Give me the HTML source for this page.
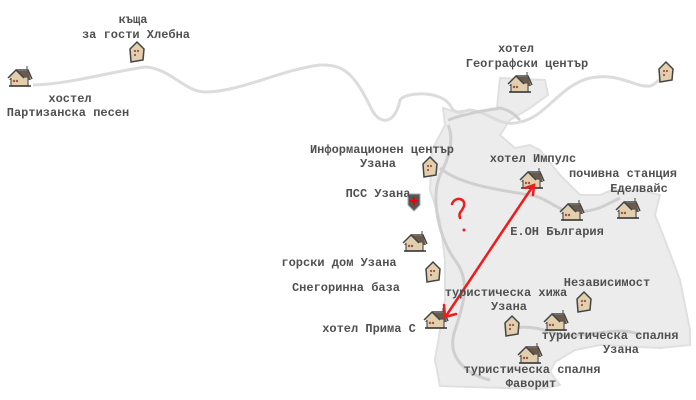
<!DOCTYPE html>
<html><head><meta charset="utf-8"><style>
html,body{margin:0;padding:0;background:#fff;}
svg{display:block}
text{font-family:"Liberation Mono",monospace;font-size:12px;font-weight:bold;fill:#505050;text-anchor:middle;}
</style></head><body>
<svg width="696" height="400" viewBox="0 0 696 400" xmlns="http://www.w3.org/2000/svg">
<defs>
<g id="h">
<path d="M-11,2 L-4,-7 L8,-7 L11,2 Z" fill="#6b5a4a"/>
<rect x="-9" y="-1" width="17" height="9" fill="#e2cfae" stroke="#555" stroke-width="1.2"/>
<path d="M-12,0 L-4,-8 L4,0" fill="#e2cfae" stroke="#444" stroke-width="1.5"/>
<path d="M-4,-8 L8,-8 L12,1" fill="none" stroke="#444" stroke-width="1.5"/>
<circle cx="-6" cy="3" r="1.2" fill="#a0524a"/><circle cx="-3" cy="3" r="1.2" fill="#a0524a"/>
<line x1="7" y1="-8" x2="7" y2="-12" stroke="#444"/>
<line x1="-11" y1="8" x2="11" y2="8" stroke="#333" stroke-width="1.5"/>
</g>
<g id="v">
<path d="M-7,-3 L0,-10 L7,-3 L6,8 L-6,10 Z" fill="#e2cfae" stroke="#444" stroke-width="1.5"/>
<circle cx="-2" cy="-1" r="1.1" fill="#a0524a"/><circle cx="1" cy="-1" r="1.1" fill="#a0524a"/><circle cx="-2" cy="3" r="1.1" fill="#a0524a"/>
</g>
</defs>
<path d="M443,108 L465,115 L497,108 L500,78 L545,80 L548,95 L530,108 L510,120 L500,135 L515,148 L530,145 L540,150 L560,175 L580,195 L600,195 L612,190 L640,190 L660,195 L655,215 L665,240 L680,280 L690,330 L690,345 L660,348 L600,345 L575,350 L555,362 L550,372 L560,385 L540,389 L440,386 L435,360 L440,330 L445,300 L445,260 L440,220 L430,190 L432,150 L445,125 Z" fill="#ececec" stroke="#e0e0e0" stroke-width="2"/>
<path d="M33,85 C70,84 110,72 145,67 C170,68 185,92 205,92 C240,92 280,70 320,65 C345,64 355,75 372,110 C380,125 395,125 400,100 C405,92 440,90 450,105 C455,115 460,112 470,110 C490,112 500,128 520,122 C545,118 560,85 590,78 C620,72 635,88 650,86 C655,85 658,80 662,78" fill="none" stroke="#dcdcdc" stroke-width="3"/>
<g fill="none" stroke="#cfcfcf" stroke-width="3">
<path d="M448,120 C470,112 490,110 500,108 C510,110 515,115 520,120"/>
<path d="M448,125 C455,140 448,160 440,175 C430,200 440,240 455,260 C470,280 465,300 455,330 C445,360 470,375 490,380"/>
<path d="M440,168 C460,185 500,190 530,195 C550,198 560,215 580,212 C600,210 605,205 620,198"/>
<path d="M515,328 C530,325 545,330 560,335 C590,338 620,325 640,335"/>
</g>
<use href="#h" x="20" y="78"/>
<use href="#v" x="137" y="52"/>
<use href="#h" x="520" y="84"/>
<use href="#v" x="666" y="72"/>
<use href="#v" x="430" y="167"/>
<use href="#h" x="532" y="180"/>
<use href="#h" x="572" y="212"/>
<use href="#h" x="628" y="210"/>
<use href="#h" x="415" y="243"/>
<use href="#v" x="433" y="272"/>
<use href="#h" x="436" y="320"/>
<use href="#v" x="512" y="326"/>
<use href="#h" x="556" y="322"/>
<use href="#v" x="584" y="302"/>
<use href="#h" x="530" y="355"/>
<path d="M408,194 L420,194 L420,205 L414,211 L408,205 Z" fill="#555" stroke="#aaa"/>
<path d="M413,197 h2 v3 h3 v2 h-3 v3 h-2 v-3 h-3 v-2 h3 Z" fill="#e00"/>
<g stroke="#ee1c1c" stroke-width="2.5" fill="none" stroke-linecap="round">
<path d="M446,316 L470,280 L500,235 L533,186"/>
<path d="M525,188 L534,185 L533,195"/>
<path d="M444,305 L445,317 L456,314"/>
<path d="M452,204 C455,196 466,198 464,206 C462,212 458,212 460,218"/>
</g>
<circle cx="464" cy="230" r="1.5" fill="#ee1c1c"/>
<text x="133" y="23">къща</text>
<text x="136" y="38">за гости Хлебна</text>
<text x="70" y="102">хостел</text>
<text x="68" y="116">Партизанска песен</text>
<text x="516" y="52">хотел</text>
<text x="527" y="67">Географски център</text>
<text x="382" y="153">Информационен център</text>
<text x="378" y="167">Узана</text>
<text x="378" y="197">ПСС Узана</text>
<text x="533" y="162">хотел Импулс</text>
<text x="623" y="177">почивна станция</text>
<text x="639" y="192">Еделвайс</text>
<text x="557" y="235">Е.ОН България</text>
<text x="339" y="266">горски дом Узана</text>
<text x="346" y="291">Снегоринна база</text>
<text x="607" y="286">Независимост</text>
<text x="506" y="296">туристическа хижа</text>
<text x="509" y="310">Узана</text>
<text x="369" y="332">хотел Прима С</text>
<text x="610" y="339">туристическа спалня</text>
<text x="621" y="353">Узана</text>
<text x="532" y="373">туристическа спалня</text>
<text x="531" y="387">Фаворит</text>
</svg>
</body></html>
